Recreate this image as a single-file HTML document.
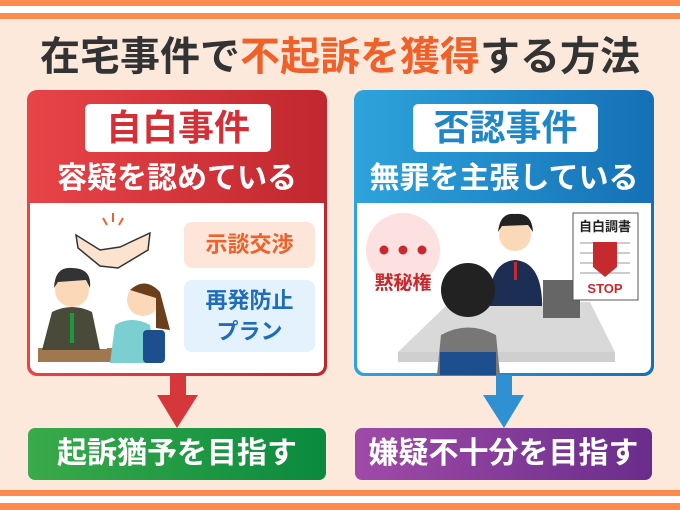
<!DOCTYPE html>
<html><head><meta charset="utf-8"><style>
*{margin:0;padding:0;box-sizing:border-box}
body{width:680px;height:510px;overflow:hidden;background:#fde8dc;position:relative;font-family:"Liberation Sans","Noto Sans CJK JP",sans-serif;font-weight:bold}
.a{position:absolute}
.t{text-align:center;white-space:nowrap}
</style></head><body>
<div class="a" style="left:0;top:0;width:680px;height:6px;background:#fd8a4f"></div>
<div class="a" style="left:0;top:6px;width:680px;height:7px;background:#fff"></div>
<div class="a" style="left:0;top:13px;width:680px;height:6px;background:#fd8a4f"></div>
<div class="a" style="left:0;top:490px;width:680px;height:6px;background:#fd8a4f"></div>
<div class="a" style="left:0;top:496px;width:680px;height:7px;background:#fff"></div>
<div class="a" style="left:0;top:503px;width:680px;height:7px;background:#fd8a4f"></div>

<div class="a t" style="left:0;top:33px;width:680px;font-size:40px;line-height:48px;color:#333">在宅事件で<span style="color:#f0602a">不起訴を獲得</span>する方法</div>

<!-- left panel -->
<div class="a" style="left:27px;top:90px;width:300px;height:286px;border-radius:10px;background:linear-gradient(90deg,#e84448,#c1272f)"></div>
<div class="a" style="left:30px;top:203px;width:294px;height:170px;border-radius:0 0 8px 8px;background:#fff"></div>
<div class="a t" style="left:85px;top:104px;width:186px;height:48px;background:#fff;border-radius:5px;color:#d42f36;font-size:36px;line-height:48px">自白事件</div>
<div class="a t" style="left:27px;top:160px;width:300px;font-size:30px;line-height:38px;color:#fff">容疑を認めている</div>
<div class="a t" style="left:184px;top:222px;width:131px;height:46px;background:#fde6d9;border-radius:8px;color:#f0602a;font-size:22px;line-height:46px">示談交渉</div>
<div class="a t" style="left:184px;top:280px;width:131px;height:72px;background:#e3f2fd;border-radius:8px;color:#1f6db8;font-size:22px;line-height:31px;padding-top:5px">再発防止<br>プラン</div>

<!-- right panel -->
<div class="a" style="left:354px;top:90px;width:300px;height:286px;border-radius:10px;background:linear-gradient(90deg,#2ea3dc,#1570b5)"></div>
<div class="a" style="left:357px;top:203px;width:294px;height:170px;border-radius:0 0 8px 8px;background:#fff"></div>
<div class="a t" style="left:413px;top:104px;width:185px;height:48px;background:#fff;border-radius:5px;color:#1f86c8;font-size:36px;line-height:48px">否認事件</div>
<div class="a t" style="left:354px;top:160px;width:300px;font-size:30px;line-height:38px;color:#fff">無罪を主張している</div>

<svg class="a" style="left:0;top:0" width="680" height="510">
<!-- left illustration -->
<path d="M76 235 L100 250 L120 247 L150 233 L148 250 L118 268 L100 266 L78 248Z" fill="#fbe3cf" stroke="#333" stroke-width="1.5"/>
<path d="M107 225 l-4 -7 M113 222 v-9 M119 225 l4 -7" stroke="#f0602a" stroke-width="2"/>
<rect x="38" y="348" width="122" height="14" fill="#a07850"/>
<rect x="62" y="342" width="45" height="7" fill="#fff"/>
<path d="M42 350 L52 312 Q72 302 92 312 L100 350Z" fill="#4a4a3a"/>
<circle cx="72" cy="290" r="17" fill="#fbd9b8"/><path d="M54 288 Q55 266 72 268 Q92 268 90 288 L86 280 L58 282Z" fill="#333"/>
<rect x="70" y="313" width="4" height="30" fill="#1a9a3a"/>
<path d="M110 363 L115 325 Q132 315 150 325 L156 363Z" fill="#7ccfd0"/>
<circle cx="143" cy="300" r="16" fill="#fbd9b8"/><path d="M130 290 Q145 276 160 292 L170 330 L156 328 L156 298Z" fill="#6b3f1b"/>
<rect x="143" y="330" width="22" height="33" rx="4" fill="#1d4f8e"/>
<!-- right illustration -->
<circle cx="403" cy="250" r="37" fill="#fde0e0"/>
<circle cx="384" cy="250" r="4.5" fill="#c62a2f"/><circle cx="403" cy="250" r="4.5" fill="#c62a2f"/><circle cx="422" cy="250" r="4.5" fill="#c62a2f"/>
<text x="403" y="289" font-size="19" fill="#c62a2f" text-anchor="middle" font-weight="bold">黙秘権</text>
<path d="M450 302 L590 302 L615 352 L398 352Z" fill="#d9d9d9"/>
<rect x="398" y="352" width="217" height="10" fill="#cfcfcf"/>
<path d="M490 300 Q490 262 515 260 Q540 262 542 300 L542 306 L490 306Z" fill="#1c2e54"/>
<rect x="514" y="262" width="3" height="18" fill="#c62a2f"/>
<circle cx="515" cy="235" r="16" fill="#fbd9b8"/><path d="M498 232 Q500 212 515 214 Q532 212 533 232 L528 225 L502 226Z" fill="#222"/>
<rect x="543" y="280" width="37" height="38" fill="#666"/>
<rect x="573" y="213" width="65" height="87" fill="#fff" stroke="#555"/>
<text x="605" y="231" font-size="13" fill="#222" text-anchor="middle" font-weight="bold">自白調書</text>
<g stroke="#bbb" stroke-width="1.5"><path d="M580 243 h50 M580 253 h50 M580 263 h50 M580 273 h50"/></g>
<path d="M593 242 h24 v25 l-12 10 l-12 -10Z" fill="#c62a2f"/>
<text x="605" y="293" font-size="13" fill="#c62a2f" text-anchor="middle" font-weight="bold">STOP</text>
<path d="M437 375 L441 335 Q468 320 496 335 L500 375Z" fill="#777"/>
<circle cx="468" cy="290" r="27" fill="#222"/>
<rect x="440" y="352" width="56" height="23" fill="#1d4f8e"/>
<!-- arrows -->
<rect x="170" y="375" width="16" height="22" fill="#d6373a"/><path d="M157 395 L198 395 L177 428Z" fill="#d6373a"/>
<rect x="496" y="375" width="16" height="22" fill="#2f90d2"/><path d="M483 395 L524 395 L504 428Z" fill="#2f90d2"/>
</svg>

<div class="a t" style="left:28px;top:428px;width:298px;height:52px;border-radius:7px;background:linear-gradient(90deg,#3aaa4a,#0a8a3e);color:#fff;font-size:30px;line-height:52px">起訴猶予を目指す</div>
<div class="a t" style="left:355px;top:428px;width:297px;height:52px;border-radius:7px;background:linear-gradient(90deg,#a04aa8,#6a2d8c);color:#fff;font-size:30px;line-height:52px">嫌疑不十分を目指す</div>
</body></html>
